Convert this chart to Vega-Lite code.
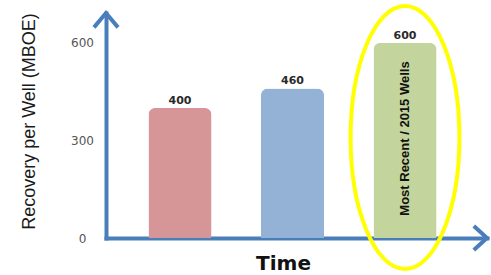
{
  "$schema": "https://vega.github.io/schema/vega-lite/v6.json",
  "width": 381,
  "height": 225,
  "autosize": "none",
  "padding": {"left": 106, "top": 13, "right": 4, "bottom": 37},
  "background": "white",
  "config": {"view": {"stroke": null}},
  "data": {"values": [
    {"period": "Earlier wells", "value": 400, "note": ""},
    {"period": "Later wells", "value": 460, "note": ""},
    {"period": "2015 wells", "value": 600, "note": "Most Recent / 2015 Wells"}
  ]},
  "resolve": {"scale": {"x": "independent"}, "axis": {"x": "independent"}},
  "layer": [
    {
      "encoding": {
        "x": {"field": "period", "type": "nominal", "sort": null,
          "scale": {"type": "band", "paddingInner": 0.44, "paddingOuter": 0.413, "align": 0.457},
          "axis": {"title": "Time", "labels": false, "ticks": false, "grid": false,
            "domainColor": "#4a7ebb", "domainWidth": 4, "domainCap": "square",
            "titleFont": "DejaVu Sans", "titleFontWeight": "bold", "titleFontSize": 20, "titleColor": "#111111",
            "titleX": 177, "titleY": 31, "titleBaseline": "alphabetic", "titleAlign": "center"}}
      },
      "layer": [
        {
          "mark": {"type": "bar", "cornerRadiusTopLeft": 7, "cornerRadiusTopRight": 7},
          "encoding": {
            "y": {"field": "value", "type": "quantitative",
              "scale": {"domain": [0, 692], "nice": false},
              "axis": {"values": [0, 300, 600], "ticks": false, "grid": false,
                "domainColor": "#4a7ebb", "domainWidth": 4, "domainCap": "square",
                "labelFont": "DejaVu Sans", "labelFontSize": 12, "labelColor": "#555555",
                "labelAlign": "center", "labelPadding": 24, "labelBaseline": "middle",
                "title": "Recovery per Well (MBOE)", "titleFont": "Liberation Sans", "titleFontSize": 18,
                "titleFontWeight": "normal", "titleColor": "#1a1a1a", "titleAngle": 270,
                "titleX": -77, "titleY": 108, "titleAlign": "center", "titleBaseline": "middle"}},
            "color": {"field": "period", "type": "nominal", "legend": null,
              "scale": {"domain": ["Earlier wells", "Later wells", "2015 wells"], "range": ["#d69596", "#94b2d6", "#c3d59d"]}}
          }
        },
        {
          "mark": {"type": "text", "baseline": "alphabetic", "dy": -4, "font": "DejaVu Sans", "fontWeight": "bold", "fontSize": 11, "color": "#2a2a2a"},
          "encoding": {
            "y": {"field": "value", "type": "quantitative"},
            "text": {"field": "value", "type": "quantitative"}
          }
        },
        {
          "transform": [{"filter": "datum.note != ''"}],
          "mark": {"type": "text", "angle": 270, "align": "center", "baseline": "middle", "font": "Liberation Sans", "fontWeight": "bold", "fontSize": 13, "color": "#111111"},
          "encoding": {
            "y": {"datum": 306, "type": "quantitative"},
            "text": {"field": "note"}
          }
        },
        {
          "transform": [{"filter": "datum.note != ''"}],
          "mark": {"type": "point", "filled": false, "shape": "M0,-1 A0.414,1 0 1,1 0,1 A0.414,1 0 1,1 0,-1 Z", "size": 69169, "stroke": "#ffff00", "strokeWidth": 4, "opacity": 1},
          "encoding": {
            "y": {"datum": 309, "type": "quantitative"}
          }
        }
      ]
    },
    {
      "data": {"values": [{"axis": "y", "pos": 0, "level": 692}]},
      "mark": {"type": "point", "filled": false, "shape": "M-1,1.2L0,0L1,1.2", "size": 576, "stroke": "#4a7ebb", "strokeWidth": 4, "strokeJoin": "miter", "opacity": 1},
      "encoding": {
        "x": {"field": "pos", "type": "quantitative", "scale": {"domain": [0, 1], "nice": false}, "axis": null},
        "y": {"field": "level", "type": "quantitative"}
      }
    },
    {
      "data": {"values": [{"axis": "x", "pos": 1, "level": 0}]},
      "mark": {"type": "point", "filled": false, "shape": "M-1.1,-1L0,0L-1.1,1", "size": 576, "stroke": "#4a7ebb", "strokeWidth": 4, "strokeJoin": "miter", "opacity": 1},
      "encoding": {
        "x": {"field": "pos", "type": "quantitative", "scale": {"domain": [0, 1], "nice": false}, "axis": null},
        "y": {"field": "level", "type": "quantitative"}
      }
    }
  ]
}
